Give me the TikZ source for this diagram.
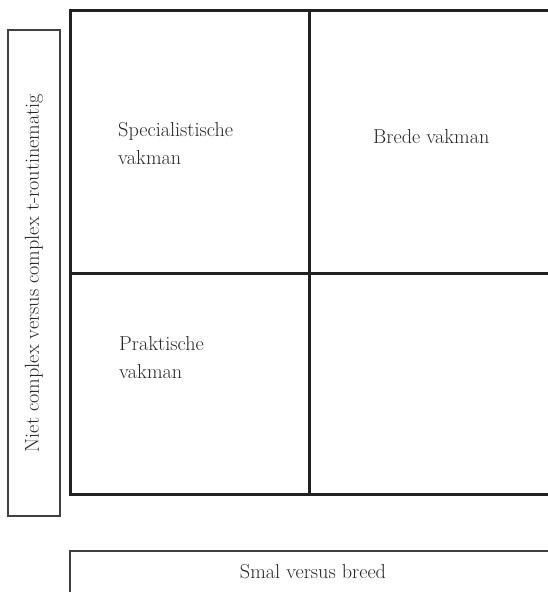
\documentclass[tikz,border=0pt]{standalone}
\usetikzlibrary{positioning}

\begin{document}
\begin{tikzpicture}[
    x=1pt, y=-1pt,
    grid/.style={
        draw=black!87,
        line width=3pt,
        line join=miter
    },
    axisbox/.style={
        draw=black!75,
        line width=1.1pt
    },
    cell/.style={
        anchor=base west,
        inner sep=0pt,
        align=left,
        text=black!85,
        font=\fontsize{20.2}{28}\selectfont
    },
    axislabel/.style={
        inner sep=0pt,
        text=black!85,
        font=\fontsize{20.2}{24}\selectfont
    }
]
\useasboundingbox (0,0) rectangle (548,592);

% Matrix
\draw[grid] (548,10) -- (70,10) -- (70,494) -- (548,494);
\draw[grid] (309,10) -- (309,494);
\draw[grid] (70,273) -- (548,273);

% Quadrant labels (base = last line)
\node[cell] (specialist) at (118,164) {Specialistische\\vakman};
\node[cell] (breed) at (373,143) {Brede vakman};
\node[cell] (praktisch) at (119,378) {Praktische\\vakman};

% Vertical axis
\draw[axisbox] (8,30) rectangle (60,516);
\node[axislabel, rotate=90] (yaxis) at (34,273) {Niet complex versus complex t-routinematig};

% Horizontal axis
\draw[axisbox] (549,551) -- (70,551) -- (70,593);
\node[axislabel] (xaxis) at (313,572) {Smal versus breed};

\end{tikzpicture}
\end{document}
